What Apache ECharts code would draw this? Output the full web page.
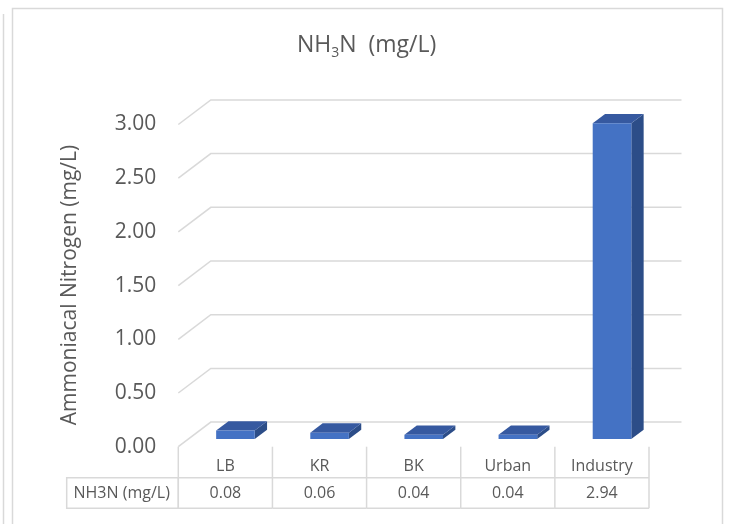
<!DOCTYPE html>
<html>
<head>
<meta charset="utf-8">
<script src="https://cdn.jsdelivr.net/npm/echarts@6/dist/echarts.min.js"></script>
<style>
  html, body { margin: 0; padding: 0; background: #ffffff; }
  #chart { width: 729px; height: 524px; }
</style>
</head>
<body>
<div id="chart"></div>
<script>
// Sampling sites and their ammoniacal nitrogen concentration
const categories = ['LB', 'KR', 'BK', 'Urban', 'Industry'];
const values = [0.08, 0.06, 0.04, 0.04, 2.94];
const seriesName = 'NH3N (mg/L)';
const yTicks = [0, 0.5, 1, 1.5, 2, 2.5, 3];
const axisTitle = 'Ammoniacal Nitrogen (mg/L)';

// Oblique 3D projection: how far the back wall sits from the front plane
const DEPTH_DX = 32.5;
const DEPTH_DY = 24.6;
// Bars occupy the middle of the depth
const BAR_D0 = 0.31, BAR_D1 = 0.69;
const BAR_WIDTH_RATIO = 0.41;

const FONT = '"Open Sans", "Liberation Sans", sans-serif';
const TEXT_COLOR = '#595959';
const LINE_COLOR = '#d9d9d9';

// Table geometry (below the floor of the plot)
const TABLE_ROW_SPLIT = 477.7;
const TABLE_BOTTOM = 508.3;
const TABLE_CAT_Y = 466.7;
const TABLE_VAL_Y = 493.3;

const chart = echarts.init(document.getElementById('chart'), null, { renderer: 'canvas' });

function renderWall(params, api) {
  const cs = params.coordSys;
  const y = api.coord([0, api.value(1)])[1];
  return {
    type: 'polyline',
    shape: {
      points: [
        [cs.x, y],
        [cs.x + DEPTH_DX, y - DEPTH_DY],
        [cs.x + cs.width + DEPTH_DX, y - DEPTH_DY]
      ]
    },
    style: { stroke: LINE_COLOR, lineWidth: 1.5, fill: null }
  };
}

function renderBar(params, api) {
  const i = api.value(0);
  const v = api.value(1);
  const base = api.coord([i, 0]);
  const top = api.coord([i, v]);
  const band = api.size([1, 0])[0];
  const w = band * BAR_WIDTH_RATIO;
  const xl = base[0] - w / 2 + BAR_D0 * DEPTH_DX;
  const yt = top[1] - BAR_D0 * DEPTH_DY;
  const yb = base[1] - BAR_D0 * DEPTH_DY;
  const ddx = (BAR_D1 - BAR_D0) * DEPTH_DX;
  const ddy = (BAR_D1 - BAR_D0) * DEPTH_DY;
  return {
    type: 'group',
    children: [
      {
        type: 'polygon',
        shape: { points: [[xl + w, yt], [xl + w + ddx, yt - ddy], [xl + w + ddx, yb - ddy], [xl + w, yb]] },
        style: { fill: '#2c4d88' }
      },
      {
        type: 'polygon',
        shape: { points: [[xl, yt], [xl + w, yt], [xl + w + ddx, yt - ddy], [xl + ddx, yt - ddy]] },
        style: { fill: '#3659a0' }
      },
      {
        type: 'rect',
        shape: { x: xl, y: yt, width: w, height: yb - yt },
        style: { fill: '#4472c4' }
      }
    ]
  };
}

function renderTable(params, api) {
  const i = api.value(0);
  const v = api.value(1);
  const cs = params.coordSys;
  const cx = api.coord([i, 0])[0];
  const floorY = cs.y + cs.height;
  const band = api.size([1, 0])[0];
  const left = cx - band / 2;
  const right = cx + band / 2;
  const lineStyle = { stroke: LINE_COLOR, lineWidth: 1.5 };
  const children = [
    { type: 'line', shape: { x1: right, y1: floorY, x2: right, y2: TABLE_BOTTOM }, style: lineStyle },
    { type: 'line', shape: { x1: left, y1: TABLE_ROW_SPLIT, x2: right, y2: TABLE_ROW_SPLIT }, style: lineStyle },
    { type: 'line', shape: { x1: left, y1: TABLE_BOTTOM, x2: right, y2: TABLE_BOTTOM }, style: lineStyle },
    {
      type: 'text', x: cx, y: TABLE_CAT_Y,
      style: { text: categories[i], fill: TEXT_COLOR, font: '16px ' + FONT, align: 'center', verticalAlign: 'middle' }
    },
    {
      type: 'text', x: cx, y: TABLE_VAL_Y,
      style: { text: v.toFixed(2), fill: TEXT_COLOR, font: '16px ' + FONT, align: 'center', verticalAlign: 'middle' }
    }
  ];
  if (i === 0) {
    children.push({ type: 'line', shape: { x1: left, y1: floorY, x2: left, y2: TABLE_BOTTOM }, style: lineStyle });
  }
  return { type: 'group', children: children };
}

const option = {
  backgroundColor: '#ffffff',
  animation: false,
  title: {
    text: '{a|NH}{b|3}{a|N  (mg/L)}',
    left: 297,
    top: 30,
    padding: 0,
    textStyle: {
      fontWeight: 'normal',
      rich: {
        a: { fontSize: 23, fontWeight: 'normal', fontFamily: FONT, color: TEXT_COLOR, lineHeight: 30, verticalAlign: 'middle' },
        b: { fontSize: 14, fontWeight: 'normal', fontFamily: FONT, color: TEXT_COLOR, lineHeight: 14, verticalAlign: 'bottom' }
      }
    }
  },
  grid: { left: 178.3, right: 80, top: 124.5, bottom: 77.3, containLabel: false },
  xAxis: {
    type: 'category',
    data: categories,
    axisLine: { show: false },
    axisTick: { show: false },
    axisLabel: { show: false },
    splitLine: { show: false }
  },
  yAxis: {
    type: 'value',
    min: 0,
    max: 3,
    interval: 0.5,
    axisLine: { show: false },
    axisTick: { show: false },
    splitLine: { show: false },
    axisLabel: {
      margin: 22,
      fontSize: 21,
      fontFamily: FONT,
      color: TEXT_COLOR,
      formatter: function (v) { return v.toFixed(2); }
    }
  },
  series: [
    {
      type: 'custom',
      name: 'walls',
      renderItem: renderWall,
      data: yTicks.map(function (t) { return [0, t]; }),
      encode: { x: 0, y: 1 },
      clip: false,
      silent: true,
      z: 1
    },
    {
      type: 'custom',
      name: seriesName,
      renderItem: renderBar,
      data: values.map(function (v, i) { return [i, v]; }),
      encode: { x: 0, y: 1 },
      clip: false,
      z: 3
    },
    {
      type: 'custom',
      name: 'table',
      renderItem: renderTable,
      data: values.map(function (v, i) { return [i, v]; }),
      encode: { x: 0, y: 1 },
      clip: false,
      silent: true,
      z: 2
    }
  ],
  graphic: [
    // chart frame
    {
      type: 'rect',
      shape: { x: 12.5, y: 8.5, width: 710, height: 540 },
      style: { fill: null, stroke: LINE_COLOR, lineWidth: 1.5 },
      silent: true
    },
    {
      type: 'line',
      shape: { x1: 3.5, y1: 14, x2: 3.5, y2: 524 },
      style: { stroke: LINE_COLOR, lineWidth: 1.5 },
      silent: true
    },
    // series key cell of the data table
    {
      type: 'rect',
      shape: { x: 66.7, y: TABLE_ROW_SPLIT, width: 111.6, height: TABLE_BOTTOM - TABLE_ROW_SPLIT },
      style: { fill: null, stroke: LINE_COLOR, lineWidth: 1.5 },
      silent: true
    },
    {
      type: 'text',
      x: 121.7,
      y: TABLE_VAL_Y,
      style: { text: seriesName, fill: TEXT_COLOR, font: '16px ' + FONT, align: 'center', verticalAlign: 'middle' },
      silent: true
    },
    // value axis title
    {
      type: 'text',
      x: 70,
      y: 285,
      rotation: Math.PI / 2,
      style: { text: axisTitle, fill: TEXT_COLOR, font: '21px ' + FONT, align: 'center', verticalAlign: 'middle' },
      silent: true
    }
  ]
};

chart.setOption(option);
</script>
</body>
</html>
